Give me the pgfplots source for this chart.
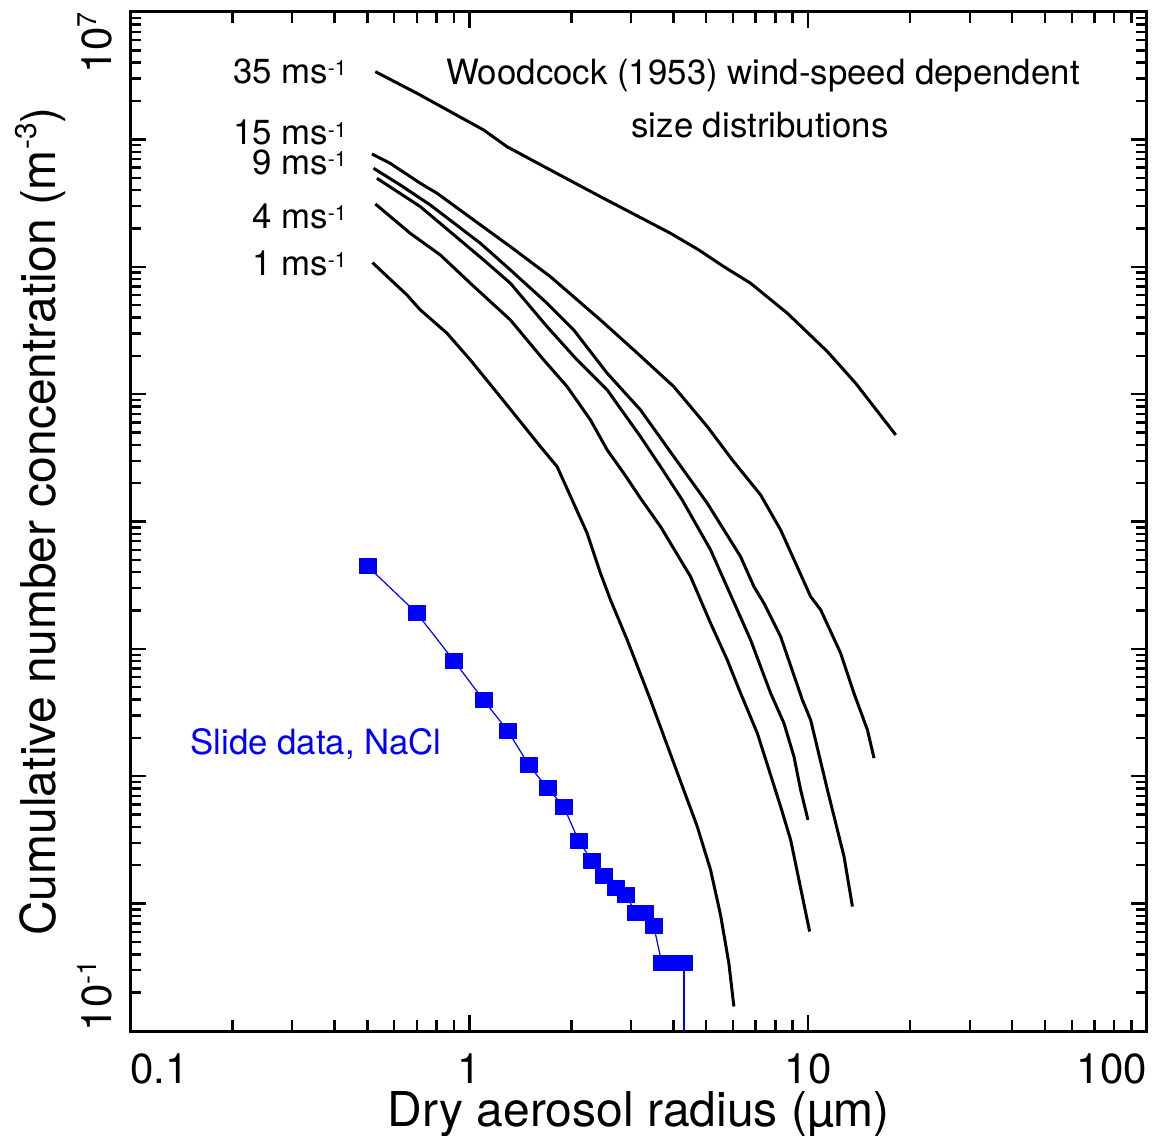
\documentclass[border=0pt]{standalone}
\usepackage{fontspec}
\setmainfont{TeX Gyre Heros}
\usepackage{pgfplots}
\pgfplotsset{compat=1.18}

\newcommand{\tsup}[1]{\raisebox{7.5pt}{\fontsize{13.5}{14}\selectfont #1}}
\newcommand{\asup}[1]{\raisebox{3.8pt}{\fontsize{10.5}{11}\selectfont #1}}
\newcommand{\lsup}[1]{\raisebox{9.5pt}{\fontsize{15}{16}\selectfont #1}}

\begin{document}
\begin{tikzpicture}
\useasboundingbox (-65.25pt,-52.5pt) rectangle (511.25pt,515.5pt);
\begin{axis}[
  at={(0,0)}, anchor=south west,
  scale only axis, width=508.25pt, height=509.5pt,
  xmode=log, ymode=log,
  xmin=0.1, xmax=100, ymin=0.1, ymax=1e7,
  axis line style={line width=1.5pt},
  tick style={black, line width=1.2pt},
  major tick length=8pt, minor tick length=5.5pt,
  tick align=inside,
  xtick={0.1,1,10,100},
  xticklabels={\makebox[0pt][l]{0.1},1,10,\makebox[0pt][r]{100}},
  ytick={0.1,1,10,100,1000,10000,100000,1000000,10000000},
  yticklabels={\makebox[0pt][l]{10\tsup{-1}},{},{},{},{},{},{},{},\makebox[0pt][r]{10\tsup{7}}},
  xticklabel style={font=\fontsize{21}{24}\selectfont, anchor=north, inner xsep=0pt, inner ysep=11pt},
  yticklabel style={font=\fontsize{21}{24}\selectfont, rotate=90, anchor=south, inner xsep=0pt, inner ysep=9pt},
  xlabel={Dry aerosol radius (µm)},
  ylabel={Cumulative number concentration (m\lsup{-3})},
  every axis x label/.style={at={(axis description cs:0.5,-0.0942)}, anchor=base, font=\fontsize{24}{28}\selectfont, inner sep=0pt},
  every axis y label/.style={at={(axis description cs:-0.0738,0.5)}, rotate=90, anchor=base, font=\fontsize{24}{28}\selectfont, inner sep=0pt},
  every axis plot/.append style={line join=round},
]
% 35 m/s
\addplot[black, line width=1.5pt] coordinates {
(0.528,3.40e6) (0.701,2.30e6) (1.102,1.185e6) (1.292,8.76e5) (1.735,5.75e5) (2.438,3.55e5) (3.925,1.832e5) (4.757,1.355e5) (5.639,1.002e5) (6.764,7.42e4) (8.682,4.315e4) (11.40,2.156e4) (13.81,1.218e4) (18.14,4.78e3)};
% 15 m/s
\addplot[black, line width=1.5pt] coordinates {
(0.516,7.68e5) (0.584,6.49e5) (0.717,4.52e5) (0.803,3.776e5) (1.030,2.33e5) (1.322,1.438e5) (1.735,8.36e4) (2.438,3.823e4) (3.058,2.223e4) (4.013,1.145e4) (5.038,5.56e3) (5.972,3.045e3) (7.241,1.617e3) (8.294,859) (10.17,257.4) (10.89,202.4) (12.47,92.5) (13.65,44.9) (14.96,23.13) (15.65,13.87)};
% 9 m/s
\addplot[black, line width=1.5pt] coordinates {
(0.5215,5.93e5) (0.6255,4.386e5) (0.767,3.055e5) (1.078,1.529e5) (1.322,9.44e4) (1.696,5.17e4) (2.033,3.19e4) (2.552,1.459e4) (3.20,7.52e3) (4.013,3.232e3) (5.038,1.392e3) (6.318,530) (6.918,308.3) (7.405,228.4) (8.294,124.9) (9.614,39.8) (10.17,27.7) (11.40,7.82) (12.76,2.343) (13.51,0.949)};
% unlabelled
\addplot[black, line width=1.5pt] coordinates {
(0.5337,4.95e5) (0.717,2.963e5) (1.102,1.131e5) (1.322,7.42e4) (1.696,3.388e4) (2.080,1.855e4) (2.552,1.079e4) (3.20,4.64e3) (3.667,2.698e3) (4.249,1.477e3) (5.152,598.6) (6.177,202.4) (6.764,117.6) (7.75,44.9) (8.483,26.1) (9.08,14.28) (9.502,7.82) (9.986,4.548)};
% 4 m/s
\addplot[black, line width=1.5pt] coordinates {
(0.528,3.112e5) (0.669,1.832e5) (0.821,1.238e5) (1.007,7.42e4) (1.322,3.823e4) (1.658,1.855e4) (1.944,1.145e4) (2.278,6.27e3) (2.552,3.648e3) (2.856,2.394e3) (3.20,1.524e3) (3.667,912) (4.497,369.5) (5.152,159.1) (5.772,81.9) (6.318,44.9) (7.079,21.79) (8.294,5.78) (8.878,3.168) (9.393,1.537) (10.10,0.604)};
% 1 m/s
\addplot[black, line width=1.5pt] coordinates {
(0.5179,1.077e5) (0.6546,6.004e4) (0.717,4.58e4) (0.8594,3.006e4) (1.007,1.855e4) (1.277,8.53e3) (1.621,3.873e3) (1.816,2.698e3) (2.011,1.477e3) (2.227,809) (2.438,392.8) (2.61,242.5) (2.924,117.6) (3.425,39.8) (4.013,12.67) (4.706,4.03) (5.152,1.842) (5.513,0.817) (5.834,0.341) (6.037,0.1557)};
% slide data
\addplot[blue, line width=0.6pt] coordinates {(4.3,0.341) (4.3,0.0001)};
\addplot[blue, line width=0.6pt, mark=square*, mark size=4.25pt, mark options={fill=blue, draw=blue, line width=0.3pt, yscale=0.88}] coordinates {
(0.5,448) (0.7,190.6) (0.9,80.9) (1.1,39.8) (1.3,22.7) (1.5,12.2) (1.7,8.07) (1.9,5.78) (2.1,3.13) (2.3,2.17) (2.5,1.65) (2.7,1.34) (2.9,1.17) (3.1,0.842) (3.3,0.842) (3.5,0.673) (3.7,0.341) (3.9,0.341) (4.1,0.341) (4.3,0.341)};

\node[anchor=base east, inner sep=0pt, font=\fontsize{17.4}{20}\selectfont] at (rel axis cs:0.2130,0.9303) {35 ms\asup{-1}};
\node[anchor=base east, inner sep=0pt, font=\fontsize{17.4}{20}\selectfont] at (rel axis cs:0.2130,0.8695) {15 ms\asup{-1}};
\node[anchor=base east, inner sep=0pt, font=\fontsize{17.4}{20}\selectfont] at (rel axis cs:0.2130,0.8405) {9 ms\asup{-1}};
\node[anchor=base east, inner sep=0pt, font=\fontsize{17.4}{20}\selectfont] at (rel axis cs:0.2130,0.7880) {4 ms\asup{-1}};
\node[anchor=base east, inner sep=0pt, font=\fontsize{17.4}{20}\selectfont] at (rel axis cs:0.2130,0.7419) {1 ms\asup{-1}};
\node[anchor=base, inner sep=0pt, font=\fontsize{17.4}{20}\selectfont] at (rel axis cs:0.6222,0.9284) {Woodcock (1953) wind-speed dependent};
\node[anchor=base, inner sep=0pt, font=\fontsize{17.4}{20}\selectfont] at (rel axis cs:0.6193,0.8773) {size distributions};
\node[anchor=base west, inner sep=0pt, text=blue, font=\fontsize{17.4}{20}\selectfont] at (rel axis cs:0.0585,0.2709) {Slide data, NaCl};
\end{axis}
\end{tikzpicture}
\end{document}
